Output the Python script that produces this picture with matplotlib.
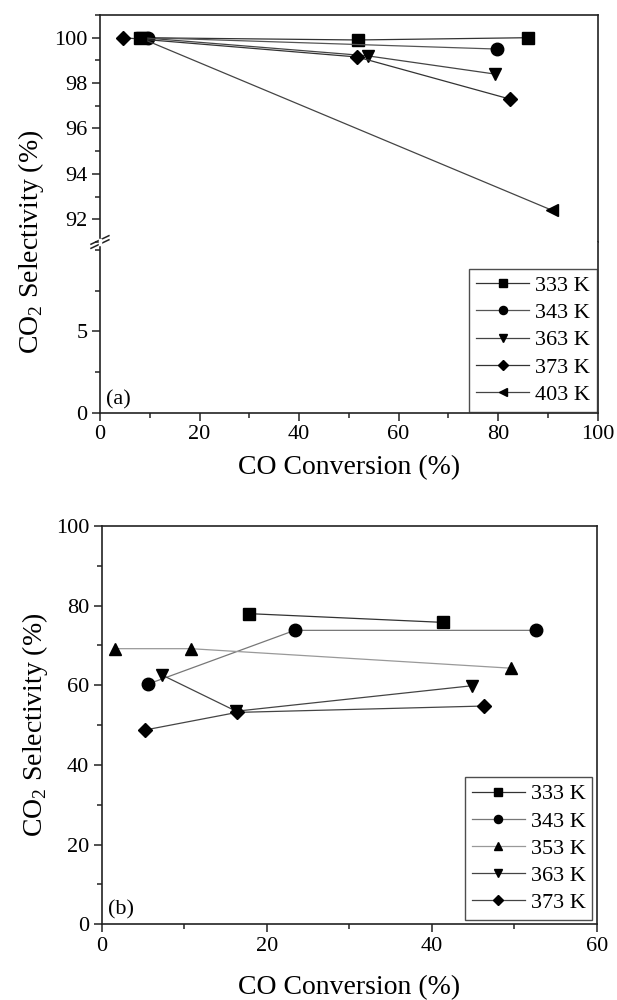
import matplotlib
matplotlib.use("Agg")
import matplotlib.pyplot as plt
from matplotlib.ticker import MultipleLocator

plt.rcParams["font.family"] = ["Liberation Serif", "DejaVu Serif"]
plt.rcParams["mathtext.fontset"] = "custom"
plt.rcParams["mathtext.rm"] = "Liberation Serif"

# (a) CO conversion (%) vs CO2 selectivity (%)
a_labels = ["333 K", "343 K", "363 K", "373 K", "403 K"]
a_markers = ["s", "o", "v", "D", "<"]
a_x = [
    [8.0, 51.8, 86.0],
    [9.6, 79.7],
    [8.5, 53.8, 79.3],
    [4.7, 51.7, 82.3],
    [8.0, 90.8],
]
a_y = [
    [100.0, 99.9, 100.0],
    [100.0, 99.5],
    [100.0, 99.2, 98.4],
    [100.0, 99.15, 97.3],
    [100.0, 92.4],
]
a_colors = ["#333333", "#555555", "#444444", "#333333", "#444444"]

# (b)
b_labels = ["333 K", "343 K", "353 K", "363 K", "373 K"]
b_markers = ["s", "o", "^", "v", "D"]
b_x = [
    [17.8, 41.4],
    [5.6, 23.4, 52.6],
    [1.6, 10.8, 49.6],
    [7.3, 16.3, 44.9],
    [5.3, 16.4, 46.3],
]
b_y = [
    [78.0, 75.8],
    [60.3, 73.8, 73.8],
    [69.2, 69.2, 64.3],
    [62.6, 53.5, 59.9],
    [48.8, 53.2, 54.8],
]
b_colors = ["#333333", "#777777", "#999999", "#444444", "#444444"]

msizes = {"s": 8.5, "o": 9, "v": 9, "^": 9, "D": 7.5, "<": 9}

fig = plt.figure(figsize=(6.17, 10.0), dpi=100)

left, width = 0.162, 0.8067
ax_hi = fig.add_axes([left, 0.758, width, 0.227])
ax_lo = fig.add_axes([left, 0.5873, width, 0.1707])
ax_b = fig.add_axes([0.1648, 0.0757, 0.8023, 0.3983])

tick_fs = 16
label_fs = 20
leg_fs = 16

for ax in (ax_hi, ax_lo, ax_b):
    for s in ax.spines.values():
        s.set_linewidth(1.2)
        s.set_color("#222222")
    ax.tick_params(which="both", direction="out", right=False, top=False,
                   labelsize=tick_fs, width=1.1, color="#222222", pad=3)
    ax.tick_params(which="major", length=6)
    ax.tick_params(which="minor", length=3.5)

# top panel, broken y axis
for i in range(len(a_labels)):
    for ax in (ax_hi, ax_lo):
        ax.plot(a_x[i], a_y[i], marker=a_markers[i], ms=msizes[a_markers[i]],
                color=a_colors[i], mfc="black", mec="black", lw=0.9,
                label=a_labels[i])

ax_hi.set_xlim(0, 100)
ax_lo.set_xlim(0, 100)
ax_hi.set_ylim(91, 101)
ax_lo.set_ylim(0, 10.5)
ax_hi.spines["bottom"].set_visible(False)
ax_lo.spines["top"].set_visible(False)
ax_hi.tick_params(axis="x", which="both", bottom=False, labelbottom=False)
ax_hi.yaxis.set_minor_locator(MultipleLocator(1))
ax_hi.set_yticks([92, 94, 96, 98, 100])
ax_lo.set_yticks([0, 5])
ax_lo.yaxis.set_minor_locator(MultipleLocator(2.5))
ax_lo.xaxis.set_major_locator(MultipleLocator(20))
ax_lo.xaxis.set_minor_locator(MultipleLocator(10))

# break marks on left spine
for dy in (-0.012, 0.012):
    ax_lo.plot([-0.018, 0.018], [1.0 + dy - 0.025, 1.0 + dy + 0.025],
               transform=ax_lo.transAxes, color="#222222", lw=1.1, clip_on=False)
ax_lo.plot([0, 0], [0.99, 1.01], transform=ax_lo.transAxes, color="white",
           lw=2.5, clip_on=False, zorder=5)

ax_lo.set_xlabel("CO Conversion (%)", fontsize=label_fs, labelpad=8)
fig.text(0.05, 0.758, "CO$_2$ Selectivity (%)", rotation=90, fontsize=label_fs,
         ha="center", va="center")
ax_lo.text(0.012, 0.05, "(a)", transform=ax_lo.transAxes, fontsize=16)

leg = ax_lo.legend(loc="lower right", fontsize=leg_fs, frameon=True, fancybox=False,
                   edgecolor="#222222", borderaxespad=0.05, handlelength=2.4,
                   markerscale=0.65, labelspacing=0.3, handletextpad=0.25,
                   borderpad=0.3)
leg.get_frame().set_linewidth(1.0)

# bottom panel
for i in range(len(b_labels)):
    ax_b.plot(b_x[i], b_y[i], marker=b_markers[i], ms=msizes[b_markers[i]],
              color=b_colors[i], mfc="black", mec="black", lw=0.9,
              label=b_labels[i])

ax_b.set_xlim(0, 60)
ax_b.set_ylim(0, 100)
ax_b.xaxis.set_major_locator(MultipleLocator(20))
ax_b.xaxis.set_minor_locator(MultipleLocator(10))
ax_b.yaxis.set_major_locator(MultipleLocator(20))
ax_b.yaxis.set_minor_locator(MultipleLocator(10))
ax_b.set_xlabel("CO Conversion (%)", fontsize=label_fs, labelpad=14)
ax_b.set_ylabel("CO$_2$ Selectivity (%)", fontsize=label_fs, labelpad=4)
ax_b.text(0.012, 0.025, "(b)", transform=ax_b.transAxes, fontsize=16)

leg = ax_b.legend(loc="lower right", fontsize=leg_fs, frameon=True, fancybox=False,
                  edgecolor="#222222", borderaxespad=0.2, handlelength=2.4,
                  markerscale=0.65, labelspacing=0.3, handletextpad=0.25,
                  borderpad=0.3)
leg.get_frame().set_linewidth(1.0)

fig.savefig("out.png", dpi=100, facecolor="white")
